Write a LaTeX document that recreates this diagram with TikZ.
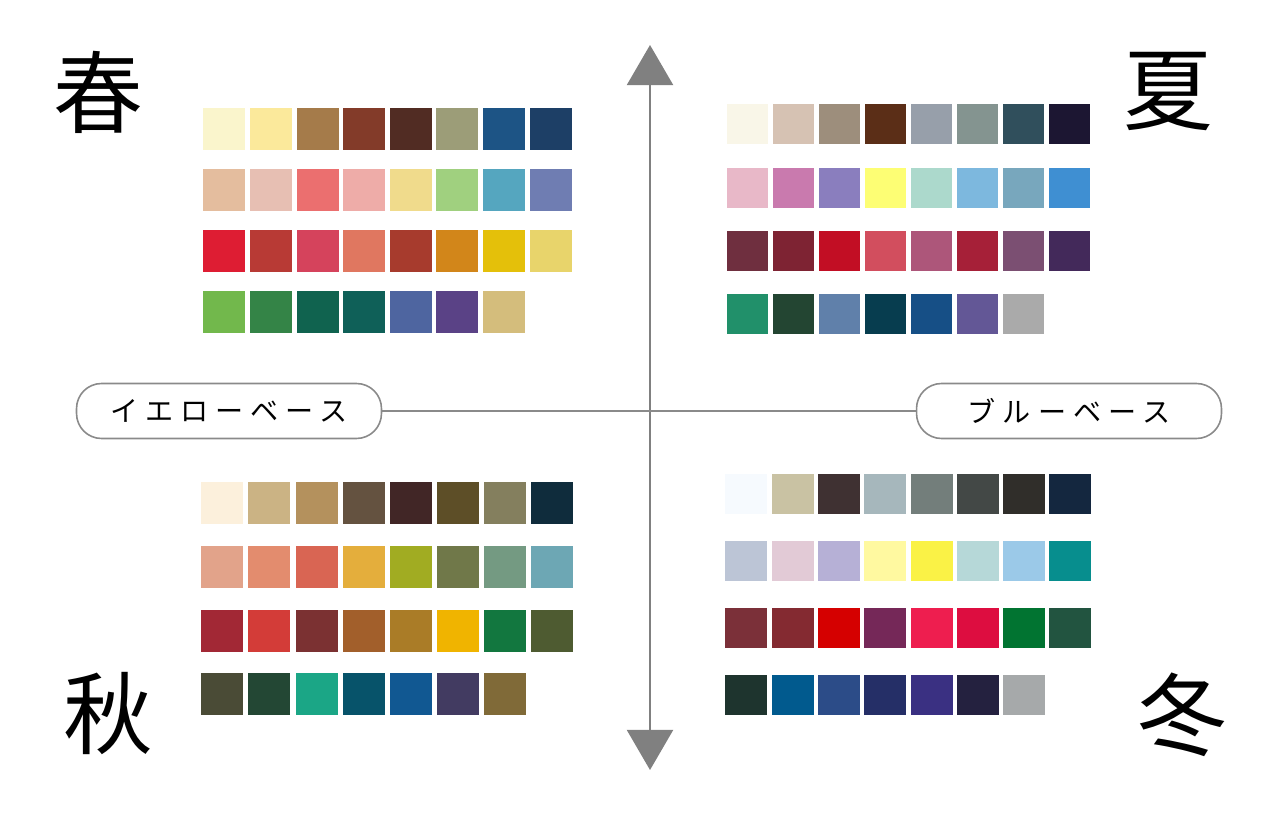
\documentclass[tikz,border=0pt]{standalone}
\usepackage{fontspec}
\newfontfamily\jpfont{Noto Sans CJK JP}
\newfontfamily\jpwide[LetterSpace=25]{Noto Sans CJK JP}
\usetikzlibrary{arrows.meta}
\definecolor{axisgray}{HTML}{808080}
\definecolor{pillgray}{HTML}{8A8A8A}

\begin{document}
\begin{tikzpicture}[x=0.02cm,y=-0.02cm,
    swatch/.style={anchor=north west,inner sep=0pt,minimum width=0.84cm,minimum height=0.84cm},
    season/.style={inner sep=0pt,font=\jpfont\fontsize{51}{51}\selectfont},
    base node/.style={draw=pillgray,line width=0.9pt,rounded corners=0.5cm,
                      minimum width=6.1cm,minimum height=1.1cm,
                      font=\jpwide\fontsize{16}{16}\selectfont}]

  \useasboundingbox (0,0) rectangle (1280,820);

  % axes
  \coordinate (top) at (650,45);
  \coordinate (bottom) at (650,770);
  \draw[axisgray,line width=1.2pt,{Triangle[length=22.8pt,width=26.2pt]}-{Triangle[length=22.8pt,width=26.2pt]}]
    (top) -- (bottom);

  \node[base node] (yellow) at (229,411) {イエローベース};
  \node[base node] (blue) at (1069,411) {ブルーベース};
  \draw[pillgray,line width=0.9pt] (yellow) -- (blue);

  % seasons
  \node[season] (spring) at (98,92) {春};
  \node[season] (summer) at (1168,92) {夏};
  \node[season] (autumn) at (108,714) {秋};
  \node[season] (winter) at (1182,715) {冬};

  % spring palette
  \foreach \row/\list in {
      0/{FAF5CC,FBE99B,A57B4A,833B29,512C23,9C9D78,1D5485,1D3F66},
      1/{E4BD9E,E7BFB3,EB6F6F,EEACA8,F0DB8C,A0D07F,55A6BF,6F7DB2},
      2/{DE1D33,B83A35,D5435C,E07760,A73B2D,D2861A,E4C00A,E8D46B},
      3/{72B84C,348447,10634F,0F6058,4E65A0,5A4286,D4BD7C}}
    \foreach \c [count=\i from 0] in \list {
      \definecolor{sw}{HTML}{\c}
      \node[swatch,fill=sw] (spring-\row-\i) at (203+\i*46.6,108+\row*61) {};
    }

  % summer palette
  \foreach \row/\list in {
      0/{F9F6E8,D6C2B3,9D8E7C,5B2E17,979FAA,849490,304F5C,1C1632},
      1/{E8B8C8,C97AAE,8A7EBE,FDFE74,ACD9CC,7DB8DE,78A7BD,3F8FD2},
      2/{6F2F3F,7E2333,C20E24,D24E5E,AD567A,A62038,7B4F72,43295A},
      3/{21906A,234532,6080AA,073D4F,164F86,635796,AAAAAA}}
    \foreach \c [count=\i from 0] in \list {
      \definecolor{sw}{HTML}{\c}
      \node[swatch,fill=sw,minimum width=0.82cm,minimum height=0.8cm]
        (summer-\row-\i) at (727+\i*46,104+\row*63.3) {};
    }

  % autumn palette
  \foreach \row/\list in {
      0/{FCF0DC,CBB384,B4915D,645240,412626,5D4E27,847F5E,0F2C3C},
      1/{E2A38A,E38C6E,D96553,E4AE3C,A1AC22,707849,749A82,6DA7B4},
      2/{A22835,D33C38,7B3132,A25F2B,AA7C27,F0B400,12773F,4E5B31},
      3/{4A4B36,234734,1BA686,07536A,115892,423B61,806A38}}
    \foreach \c [count=\i from 0] in \list {
      \definecolor{sw}{HTML}{\c}
      \node[swatch,fill=sw] (autumn-\row-\i) at (201+\i*47.1,482+\row*63.7) {};
    }

  % winter palette
  \foreach \row/\list in {
      0/{F6FAFE,C9C2A3,3F3132,A6B7BC,737E7B,434846,302E2A,14273F},
      1/{BCC5D6,E2CAD6,B6B0D6,FFF9A0,FAF246,B6D8D8,9BC9E8,078E8E},
      2/{7B3039,842A31,D50000,752858,EE1E4F,DD0D40,017431,225440},
      3/{1E342E,015A8E,2C4C88,252F67,3A3082,24213F,A6A9AA}}
    \foreach \c [count=\i from 0] in \list {
      \definecolor{sw}{HTML}{\c}
      \node[swatch,fill=sw,minimum height=0.8cm] (winter-\row-\i) at (725+\i*46.3,474+\row*67) {};
    }
\end{tikzpicture}
\end{document}
